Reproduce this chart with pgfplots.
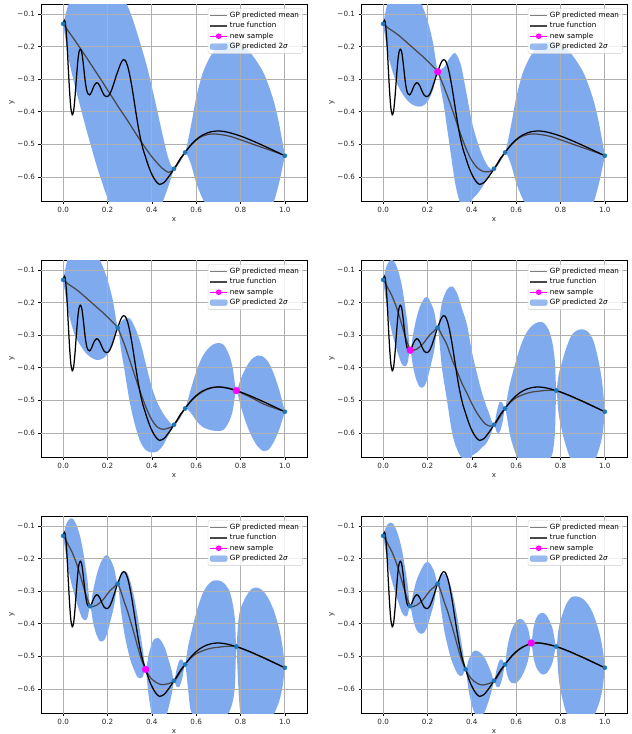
\documentclass[border=0pt]{standalone}
\usepackage{fontspec}
\setmainfont{DejaVu Sans}
\usepackage{pgfplots}
\pgfplotsset{compat=1.18}
\usepackage{pgfplotstable}

\definecolor{band}{RGB}{128,170,238}
\definecolor{c0}{RGB}{31,119,180}
\definecolor{meanc}{RGB}{72,72,72}
\definecolor{gridc}{RGB}{176,176,176}
\definecolor{newc}{RGB}{255,0,255}

\pgfplotstableread{
x y
0.000 -0.130
0.003 -0.122
0.006 -0.119
0.010 -0.128
0.015 -0.165
0.020 -0.225
0.025 -0.290
0.030 -0.348
0.035 -0.390
0.041 -0.409
0.047 -0.398
0.053 -0.358
0.060 -0.295
0.066 -0.245
0.072 -0.215
0.078 -0.208
0.084 -0.218
0.090 -0.248
0.097 -0.292
0.104 -0.327
0.111 -0.344
0.119 -0.348
0.127 -0.341
0.135 -0.327
0.143 -0.316
0.150 -0.311
0.157 -0.312
0.165 -0.320
0.175 -0.336
0.185 -0.349
0.193 -0.353
0.200 -0.353
0.210 -0.346
0.220 -0.330
0.230 -0.310
0.240 -0.288
0.246 -0.277
0.255 -0.260
0.263 -0.247
0.272 -0.240
0.280 -0.242
0.290 -0.258
0.300 -0.286
0.310 -0.323
0.320 -0.366
0.330 -0.410
0.340 -0.451
0.350 -0.486
0.360 -0.514
0.372 -0.540
0.385 -0.567
0.400 -0.592
0.415 -0.610
0.434 -0.623
0.455 -0.617
0.470 -0.605
0.485 -0.591
0.500 -0.575
0.515 -0.559
0.530 -0.542
0.550 -0.525
0.570 -0.507
0.590 -0.492
0.610 -0.480
0.630 -0.471
0.650 -0.465
0.670 -0.461
0.695 -0.459
0.720 -0.460
0.750 -0.464
0.780 -0.470
0.810 -0.477
0.850 -0.488
0.900 -0.503
0.950 -0.519
1.000 -0.535
}\truef

% each panel: x, GP mean m, band extent above (su) and below (sl) the mean
\pgfplotstableread{
x m su sl
0.000 -0.130 0.000 0.000
0.0125 -0.142 0.045 0.045
0.025 -0.154 0.085 0.085
0.050 -0.178 0.135 0.135
0.075 -0.203 0.175 0.175
0.100 -0.228 0.215 0.215
0.125 -0.254 0.250 0.250
0.150 -0.280 0.283 0.283
0.175 -0.306 0.310 0.310
0.200 -0.333 0.332 0.332
0.225 -0.359 0.347 0.347
0.250 -0.386 0.355 0.355
0.275 -0.411 0.355 0.355
0.300 -0.437 0.347 0.347
0.325 -0.464 0.325 0.325
0.350 -0.490 0.295 0.295
0.375 -0.515 0.262 0.262
0.400 -0.538 0.215 0.215
0.425 -0.558 0.160 0.160
0.450 -0.575 0.100 0.100
0.475 -0.586 0.042 0.042
0.500 -0.577 0.000 0.000
0.525 -0.551 0.006 0.006
0.550 -0.525 0.000 0.000
0.575 -0.503 0.055 0.055
0.600 -0.487 0.130 0.130
0.625 -0.476 0.185 0.185
0.650 -0.470 0.222 0.222
0.675 -0.468 0.250 0.250
0.700 -0.469 0.270 0.270
0.750 -0.475 0.290 0.290
0.800 -0.486 0.292 0.292
0.850 -0.498 0.275 0.275
0.900 -0.510 0.235 0.235
0.925 -0.516 0.200 0.200
0.950 -0.522 0.155 0.155
0.975 -0.528 0.088 0.088
1.000 -0.535 0.000 0.000
}\pA

\pgfplotstableread{
x m su sl
0.000 -0.130 0.000 0.000
0.0125 -0.137 0.050 0.050
0.025 -0.144 0.090 0.090
0.050 -0.155 0.138 0.138
0.075 -0.168 0.163 0.163
0.100 -0.183 0.175 0.175
0.125 -0.198 0.177 0.177
0.150 -0.213 0.170 0.170
0.175 -0.228 0.155 0.155
0.200 -0.244 0.125 0.125
0.225 -0.261 0.072 0.072
0.246 -0.277 0.000 0.000
0.260 -0.300 0.030 0.030
0.275 -0.325 0.062 0.062
0.300 -0.370 0.135 0.135
0.325 -0.420 0.200 0.200
0.350 -0.470 0.215 0.215
0.375 -0.515 0.175 0.175
0.400 -0.550 0.120 0.120
0.425 -0.572 0.080 0.080
0.450 -0.583 0.045 0.045
0.475 -0.584 0.015 0.015
0.500 -0.577 0.000 0.000
0.525 -0.551 0.006 0.006
0.550 -0.525 0.000 0.000
0.575 -0.503 0.055 0.055
0.600 -0.487 0.130 0.130
0.625 -0.476 0.185 0.185
0.650 -0.470 0.222 0.222
0.675 -0.468 0.250 0.250
0.700 -0.469 0.270 0.270
0.750 -0.475 0.290 0.290
0.800 -0.486 0.292 0.292
0.850 -0.498 0.275 0.275
0.900 -0.510 0.235 0.235
0.925 -0.516 0.200 0.200
0.950 -0.522 0.155 0.155
0.975 -0.528 0.088 0.088
1.000 -0.535 0.000 0.000
}\pB

\pgfplotstableread{
x m su sl
0.000 -0.130 0.000 0.000
0.0125 -0.137 0.050 0.050
0.025 -0.144 0.090 0.090
0.050 -0.155 0.140 0.140
0.075 -0.168 0.160 0.160
0.100 -0.183 0.170 0.170
0.125 -0.198 0.170 0.170
0.150 -0.213 0.163 0.163
0.175 -0.228 0.145 0.145
0.200 -0.244 0.115 0.115
0.225 -0.261 0.065 0.065
0.246 -0.277 0.000 0.000
0.260 -0.300 0.040 0.040
0.275 -0.326 0.075 0.075
0.300 -0.376 0.128 0.128
0.325 -0.428 0.150 0.150
0.350 -0.478 0.152 0.152
0.375 -0.524 0.130 0.130
0.400 -0.560 0.100 0.100
0.425 -0.582 0.075 0.075
0.450 -0.589 0.050 0.050
0.475 -0.585 0.022 0.022
0.500 -0.577 0.000 0.000
0.525 -0.551 0.006 0.006
0.550 -0.525 0.000 0.000
0.575 -0.503 0.035 0.035
0.600 -0.487 0.075 0.075
0.625 -0.475 0.105 0.105
0.650 -0.466 0.122 0.122
0.675 -0.461 0.132 0.132
0.700 -0.459 0.135 0.135
0.725 -0.460 0.130 0.130
0.750 -0.463 0.100 0.100
0.765 -0.466 0.065 0.065
0.781 -0.470 0.000 0.000
0.800 -0.476 0.040 0.040
0.825 -0.484 0.085 0.085
0.850 -0.492 0.118 0.118
0.875 -0.501 0.138 0.138
0.900 -0.510 0.145 0.145
0.925 -0.517 0.135 0.135
0.950 -0.523 0.105 0.105
0.975 -0.529 0.060 0.060
1.000 -0.535 0.000 0.000
}\pC

\pgfplotstableread{
x m su sl
0.000 -0.130 0.000 0.000
0.0125 -0.143 0.050 0.050
0.025 -0.160 0.085 0.085
0.040 -0.180 0.112 0.112
0.055 -0.205 0.125 0.125
0.070 -0.235 0.128 0.128
0.085 -0.270 0.120 0.120
0.100 -0.305 0.090 0.090
0.110 -0.325 0.060 0.060
0.122 -0.346 0.000 0.000
0.135 -0.347 0.050 0.050
0.150 -0.343 0.095 0.095
0.167 -0.335 0.125 0.125
0.185 -0.322 0.135 0.135
0.200 -0.308 0.125 0.125
0.213 -0.297 0.100 0.100
0.230 -0.287 0.060 0.060
0.246 -0.277 0.000 0.000
0.265 -0.300 0.100 0.100
0.288 -0.330 0.170 0.170
0.311 -0.375 0.225 0.225
0.333 -0.410 0.240 0.240
0.355 -0.447 0.230 0.230
0.379 -0.480 0.210 0.210
0.400 -0.510 0.160 0.160
0.424 -0.540 0.120 0.120
0.445 -0.560 0.085 0.085
0.460 -0.572 0.065 0.065
0.480 -0.579 0.035 0.035
0.500 -0.577 0.000 0.000
0.5125 -0.566 0.032 0.032
0.525 -0.552 0.046 0.046
0.5375 -0.539 0.032 0.032
0.550 -0.525 0.000 0.000
0.5625 -0.514 0.035 0.055
0.575 -0.505 0.065 0.110
0.600 -0.492 0.115 0.175
0.625 -0.484 0.160 0.205
0.650 -0.478 0.190 0.220
0.675 -0.474 0.205 0.228
0.700 -0.472 0.212 0.230
0.725 -0.470 0.208 0.225
0.750 -0.469 0.180 0.212
0.765 -0.469 0.140 0.190
0.775 -0.469 0.085 0.130
0.781 -0.470 0.000 0.000
0.790 -0.472 0.045 0.060
0.800 -0.474 0.075 0.100
0.825 -0.481 0.140 0.160
0.850 -0.488 0.188 0.200
0.875 -0.496 0.211 0.220
0.900 -0.503 0.221 0.225
0.925 -0.511 0.221 0.210
0.950 -0.519 0.199 0.175
0.975 -0.527 0.137 0.120
0.990 -0.532 0.075 0.070
1.000 -0.535 0.000 0.000
}\pD

\pgfplotstableread{
x m su sl
0.000 -0.130 0.000 0.000
0.0125 -0.143 0.046 0.046
0.025 -0.160 0.079 0.079
0.040 -0.180 0.104 0.104
0.055 -0.205 0.116 0.116
0.070 -0.235 0.119 0.119
0.085 -0.270 0.112 0.112
0.100 -0.305 0.084 0.084
0.110 -0.325 0.056 0.056
0.122 -0.346 0.000 0.000
0.135 -0.347 0.048 0.048
0.150 -0.343 0.090 0.090
0.167 -0.335 0.119 0.119
0.185 -0.322 0.128 0.128
0.200 -0.308 0.119 0.119
0.213 -0.297 0.095 0.095
0.230 -0.287 0.057 0.057
0.246 -0.277 0.000 0.000
0.260 -0.300 0.055 0.055
0.276 -0.334 0.095 0.095
0.290 -0.360 0.115 0.115
0.305 -0.395 0.120 0.120
0.320 -0.430 0.112 0.112
0.335 -0.468 0.095 0.095
0.350 -0.503 0.065 0.065
0.360 -0.522 0.040 0.040
0.372 -0.540 0.000 0.000
0.385 -0.557 0.060 0.060
0.400 -0.570 0.110 0.110
0.415 -0.578 0.133 0.133
0.430 -0.584 0.140 0.140
0.445 -0.587 0.132 0.132
0.460 -0.586 0.110 0.110
0.475 -0.584 0.075 0.075
0.490 -0.580 0.035 0.035
0.500 -0.577 0.000 0.000
0.5125 -0.566 0.028 0.028
0.525 -0.552 0.040 0.040
0.5375 -0.539 0.028 0.028
0.550 -0.525 0.000 0.000
0.5625 -0.514 0.040 0.080
0.575 -0.505 0.070 0.160
0.600 -0.492 0.125 0.200
0.625 -0.484 0.170 0.215
0.650 -0.478 0.195 0.222
0.675 -0.474 0.206 0.225
0.700 -0.472 0.205 0.225
0.725 -0.470 0.195 0.220
0.750 -0.469 0.170 0.200
0.765 -0.469 0.130 0.170
0.775 -0.469 0.080 0.120
0.781 -0.470 0.000 0.000
0.790 -0.472 0.080 0.120
0.800 -0.474 0.120 0.200
0.825 -0.481 0.165 0.225
0.850 -0.488 0.195 0.235
0.876 -0.496 0.207 0.235
0.900 -0.503 0.205 0.225
0.925 -0.511 0.190 0.200
0.950 -0.519 0.160 0.160
0.975 -0.527 0.110 0.110
0.990 -0.532 0.060 0.060
1.000 -0.535 0.000 0.000
}\pE

\pgfplotstableread{
x m su sl
0.000 -0.130 0.000 0.000
0.0125 -0.143 0.040 0.040
0.025 -0.160 0.068 0.068
0.040 -0.180 0.090 0.090
0.055 -0.205 0.100 0.100
0.070 -0.235 0.102 0.102
0.085 -0.270 0.096 0.096
0.100 -0.305 0.072 0.072
0.110 -0.325 0.048 0.048
0.122 -0.346 0.000 0.000
0.135 -0.347 0.040 0.040
0.150 -0.343 0.075 0.075
0.167 -0.335 0.095 0.095
0.185 -0.322 0.105 0.105
0.200 -0.308 0.098 0.098
0.213 -0.297 0.080 0.080
0.230 -0.287 0.048 0.048
0.246 -0.277 0.000 0.000
0.260 -0.300 0.050 0.050
0.276 -0.334 0.088 0.088
0.290 -0.360 0.105 0.105
0.305 -0.395 0.110 0.110
0.320 -0.430 0.102 0.102
0.335 -0.468 0.085 0.085
0.350 -0.503 0.058 0.058
0.360 -0.522 0.035 0.035
0.372 -0.540 0.000 0.000
0.385 -0.557 0.045 0.045
0.400 -0.570 0.080 0.080
0.415 -0.579 0.097 0.097
0.430 -0.585 0.100 0.100
0.445 -0.588 0.095 0.095
0.460 -0.587 0.080 0.080
0.475 -0.584 0.055 0.055
0.490 -0.580 0.025 0.025
0.500 -0.577 0.000 0.000
0.5125 -0.566 0.028 0.028
0.525 -0.552 0.040 0.040
0.5375 -0.539 0.028 0.028
0.550 -0.525 0.000 0.000
0.5575 -0.518 0.035 0.035
0.5675 -0.510 0.062 0.062
0.580 -0.500 0.082 0.082
0.595 -0.490 0.093 0.093
0.610 -0.481 0.095 0.095
0.625 -0.474 0.088 0.088
0.640 -0.468 0.072 0.072
0.655 -0.463 0.045 0.045
0.668 -0.459 0.000 0.000
0.678 -0.458 0.045 0.045
0.690 -0.458 0.075 0.075
0.705 -0.459 0.090 0.090
0.720 -0.461 0.095 0.095
0.735 -0.463 0.090 0.090
0.750 -0.465 0.075 0.075
0.765 -0.467 0.050 0.050
0.781 -0.470 0.000 0.000
0.790 -0.472 0.050 0.080
0.800 -0.474 0.085 0.130
0.825 -0.481 0.140 0.190
0.850 -0.488 0.170 0.210
0.875 -0.496 0.180 0.215
0.900 -0.503 0.180 0.210
0.925 -0.511 0.170 0.195
0.950 -0.519 0.145 0.165
0.975 -0.527 0.100 0.115
0.990 -0.532 0.055 0.065
1.000 -0.535 0.000 0.000
}\pF

\pgfplotsset{
  gpaxis/.style={
    scale only axis, width=266pt, height=197pt,
    xmin=-0.1, xmax=1.1, ymin=-0.674, ymax=-0.069,
    xtick={0,0.2,0.4,0.6,0.8,1},
    xticklabels={0.0,0.2,0.4,0.6,0.8,1.0},
    ytick={-0.6,-0.5,-0.4,-0.3,-0.2,-0.1},
    yticklabels={−0.6,−0.5,−0.4,−0.3,−0.2,−0.1},
    tick align=outside, tick pos=left, major tick length=2.5pt,
    tick style={black, line width=0.6pt},
    axis line style={line width=0.8pt},
    tick label style={font=\fontsize{7.2}{8}\selectfont, text=black!85},
    xlabel={x}, ylabel={y},
    label style={font=\fontsize{7.2}{8}\selectfont, text=black!85},
    xlabel style={at={(axis description cs:0.5,-0.096)}, anchor=center},
    ylabel style={at={(axis description cs:-0.109,0.5)}, anchor=center},
    legend cell align=left,
    legend style={at={(1,1)}, anchor=north east, xshift=-4.3pt, yshift=-4.3pt,
      draw=black!20, fill=white, fill opacity=0.8, text opacity=1,
      rounded corners=2pt, font=\fontsize{7.2}{8}\selectfont,
      inner sep=1.5pt, row sep=-0.6pt},
  },
}

\newcommand{\gppanel}[5]{%
\begin{axis}[gpaxis, at={(#1,#2)}, anchor=north west]
\addplot[draw=none, stack plots=y, smooth, forget plot] table[x=x, y expr=\thisrow{m}-\thisrow{sl}]{#3};
\addplot[fill=band, draw=none, stack plots=y, smooth, forget plot] table[x=x, y expr=\thisrow{su}+\thisrow{sl}]{#3} \closedcycle;
\pgfplotsinvokeforeach{0,0.2,0.4,0.6,0.8,1}{\draw[gridc, line width=0.8pt] (axis cs:##1,-0.7) -- (axis cs:##1,0);}
\pgfplotsinvokeforeach{-0.6,-0.5,-0.4,-0.3,-0.2,-0.1}{\draw[gridc, line width=0.8pt] (axis cs:-0.2,##1) -- (axis cs:1.2,##1);}
\addplot[only marks, mark=*, c0, mark size=2.1pt, stack plots=false, forget plot] coordinates {#4};
\addplot[meanc, line width=1.25pt, smooth, stack plots=false, forget plot] table[x=x, y=m]{#3};
\addplot[black, line width=1.25pt, smooth, stack plots=false, forget plot] table[x=x, y=y]{\truef};
#5
\addlegendimage{color=black!50, line width=1.4pt}
\addlegendentry{GP predicted mean}
\addlegendimage{color=black!72, line width=1.4pt}
\addlegendentry{true function}
\addlegendimage{color=newc, line width=1.2pt, mark=*, mark size=2.2pt, mark options={solid, fill=newc}}
\addlegendentry{new sample}
\addlegendimage{legend image code/.code={\fill[band] (0cm,-0.1cm) rectangle (0.6cm,0.1cm);}}
\addlegendentry{GP predicted 2\textit{σ}}
\end{axis}}

\newcommand{\newsample}[2]{\addplot[only marks, mark=*, newc, mark options={fill=newc, draw=newc}, mark size=3.4pt, stack plots=false, forget plot] coordinates {(#1,#2)};}

\begin{document}
\begin{tikzpicture}
\useasboundingbox (0pt,-734pt) rectangle (632pt,0pt);
\gppanel{41pt}{-4pt}{\pA}{(0,-0.130) (0.5,-0.575) (0.55,-0.525) (1,-0.535)}{}
\gppanel{361pt}{-4pt}{\pB}{(0,-0.130) (0.5,-0.575) (0.55,-0.525) (1,-0.535)}{\newsample{0.246}{-0.277}}
\gppanel{41pt}{-260pt}{\pC}{(0,-0.130) (0.246,-0.277) (0.5,-0.575) (0.55,-0.525) (1,-0.535)}{\newsample{0.781}{-0.470}}
\gppanel{361pt}{-260pt}{\pD}{(0,-0.130) (0.246,-0.277) (0.5,-0.575) (0.55,-0.525) (0.781,-0.470) (1,-0.535)}{\newsample{0.122}{-0.346}}
\gppanel{41pt}{-516pt}{\pE}{(0,-0.130) (0.122,-0.346) (0.246,-0.277) (0.5,-0.575) (0.55,-0.525) (0.781,-0.470) (1,-0.535)}{\newsample{0.372}{-0.540}}
\gppanel{361pt}{-516pt}{\pF}{(0,-0.130) (0.122,-0.346) (0.246,-0.277) (0.372,-0.540) (0.5,-0.575) (0.55,-0.525) (0.781,-0.470) (1,-0.535)}{\newsample{0.668}{-0.459}}
\end{tikzpicture}
\end{document}
